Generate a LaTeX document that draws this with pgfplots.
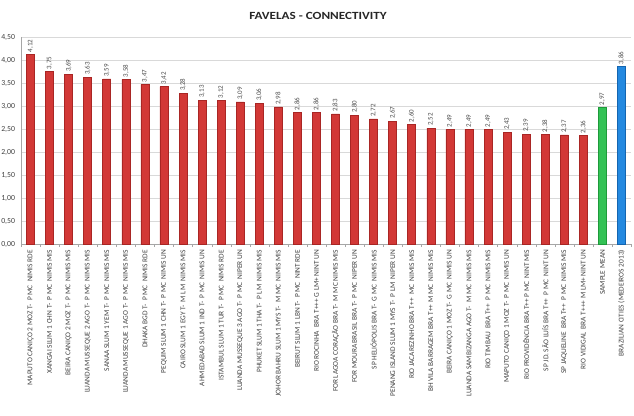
\documentclass[border=0pt]{standalone}
\usepackage{pgfplots}
\pgfplotsset{compat=1.18}
\usepackage{fontspec}
\setmainfont{Carlito}
\newfontfamily\titlefont[FakeStretch=1.2]{Carlito}
\definecolor{barred}{HTML}{D23836}
\definecolor{barreddk}{HTML}{A92624}
\definecolor{bargreen}{HTML}{33C255}
\definecolor{bargreendk}{HTML}{1E9A3A}
\definecolor{barblue}{HTML}{2489E0}
\definecolor{barbluedk}{HTML}{1465B0}
\definecolor{gridgray}{HTML}{D9D9D9}
\begin{document}
\begin{tikzpicture}[x=1bp,y=1bp]
\useasboundingbox (0,0) rectangle (634,415);
\node[font=\titlefont\bfseries\fontsize{11}{12}\selectfont, text=black!85] at (318,399) {FAVELAS - CONNECTIVITY};
\begin{axis}[
  at={(21bp,171bp)}, anchor=south west,
  scale only axis, width=610bp, height=207bp,
  xmin=-0.5, xmax=31.5, ymin=0, ymax=4.5,
  ytick={0,0.5,...,4.5},
  ymajorgrids, major grid style={gridgray, line width=0.7pt},
  axis x line*=bottom, axis y line*=left,
  axis line style={black!35, line width=0.6pt},
  ytick style={draw=none},
  xtick={0,...,31},
  major x tick style={draw=none},
  minor xtick={-0.5,0.5,...,31.5},
  minor x tick style={black!35},
  minor tick length=3bp,
  tick align=outside,
  /pgf/number format/.cd, use comma, fixed, fixed zerofill, precision=2, assume math mode=true,
  /pgfplots/.cd,
  yticklabel style={font=\fontsize{7.8}{8}\selectfont, text=black!75, inner xsep=1.5bp},
  xticklabel style={font=\fontsize{7.4}{8}\selectfont, text=black!75, rotate=90, anchor=east, inner xsep=1.5bp},
  xticklabels={
    {MAPUTO CANIÇO 2 MOZ T-~~P MC~~NIMIS RDE},
    {XANGAI SLUM 1 CHN T-~~P MC~~NIMIS MIS},
    {BEIRA CANIÇO 2 MOZ T-~~P MC~~NIMIS MIS},
    {LUANDA MUSSEQUE 2 AGO T-~~P MC~~NIMIS MIS},
    {SANAA SLUM 1 YEM T-~~P MC~~NIMIS MIS},
    {LUANDA MUSSEQUE 1 AGO T-~~P MC~~NIMIS MIS},
    {DHAKA BGD T-~~P MC~~NIMIS RDE},
    {PEQUIM SLUM 1 CHN T-~~P MC~~NIMIS UN},
    {CAIRO SLUM 1 EGY T-~~M LM~~NIMIS MIS},
    {AHMEDABAD SLUM 1 IND T-~~P MC~~NIMIS UN},
    {ISTAMBUL SLUM 1 TUR T-~~P MC~~NIMIS RDE},
    {LUANDA MUSSEQUE 3 AGO T-~~P MC~~NIPER UN},
    {PHUKET SLUM 1 THA T-~~P LM~~NIMIS MIS},
    {JOHOR BAHRU SLUM 1 MYS T-~~M MC~~NIMIS MIS},
    {BEIRUT SLUM 1 LBN T-~~P MC~~NINT RDE},
    {RIO ROCINHA~~BRA T+++ G LM+ NINT UN},
    {FOR LAGOA CORAÇÃO BRA T-~~M MC NIMIS MIS},
    {FOR MOURA BRASIL BRA T-~~P MC~~NIPER UN},
    {SP HELIÓPOLIS BRA T-~~G MC~~NIMIS MIS},
    {PENANG ISLAND SLUM 1 MYS T-~~P LM~~NIPER UN},
    {RIO JACAREZINHO BRA T++~~MC~~NIMIS MIS},
    {BH VILA BARRAGEM BRA T++ M MC~~NIMIS MIS},
    {BEIRA CANIÇO 1 MOZ T-~~G MC~~NIMIS UN},
    {LUANDA SAMBIZANGA AGO T-~~M MC~~NIMIS MIS},
    {RIO TIMBAU~~BRA T++~~P MC~~NIMIS MIS},
    {MAPUTO CANIÇO 1 MOZ T-~~P MC~~NIMIS UN},
    {RIO PROVIDÊNCIA BRA T++ P MC~~NINT MIS},
    {SP JD. SÃO LUÍS BRA T++~~P MC~~NINT UN},
    {SP JAQUELINE~~BRA T++~~P MC~~NIMIS MIS},
    {RIO VIDIGAL~~BRA T+++ M LM+ NINT UN},
    {SAMPLE MEAN},
    {BRAZILIAN CITIES (MEDEIROS 2013)}
  },
  ybar, bar width=8bp, bar shift=0pt,
  nodes near coords,
  every node near coord/.append style={font=\fontsize{7}{7}\selectfont, text=black!70, rotate=90, anchor=west, inner xsep=2bp},
]
\addplot[fill=barred, draw=barreddk, line width=0.6pt] coordinates {
 (0,4.12) (1,3.75) (2,3.69) (3,3.63) (4,3.59) (5,3.58) (6,3.47) (7,3.42)
 (8,3.28) (9,3.13) (10,3.12) (11,3.09) (12,3.06) (13,2.98) (14,2.86) (15,2.86)
 (16,2.83) (17,2.80) (18,2.72) (19,2.67) (20,2.60) (21,2.52) (22,2.49) (23,2.49)
 (24,2.49) (25,2.43) (26,2.39) (27,2.38) (28,2.37) (29,2.36)
};
\addplot[fill=bargreen, draw=bargreendk, line width=0.6pt] coordinates {(30,2.97)};
\addplot[fill=barblue, draw=barbluedk, line width=0.6pt] coordinates {(31,3.86)};
\end{axis}
\end{tikzpicture}
\end{document}
